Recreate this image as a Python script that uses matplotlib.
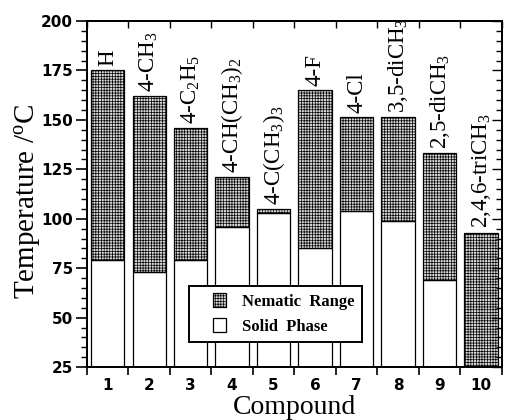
import matplotlib
matplotlib.use("Agg")
import matplotlib.pyplot as plt
from matplotlib.patches import Patch, Rectangle
from matplotlib.legend_handler import HandlerPatch
from matplotlib.ticker import MultipleLocator, FixedLocator

plt.rcParams['font.family'] = ['Liberation Serif', 'DejaVu Serif']
plt.rcParams['mathtext.fontset'] = 'custom'
plt.rcParams['mathtext.rm'] = 'Liberation Serif'
plt.rcParams['mathtext.it'] = 'Liberation Serif:italic'
plt.rcParams['hatch.color'] = '#a4a4a4'
plt.rcParams['hatch.linewidth'] = 0.5

compounds = [1, 2, 3, 4, 5, 6, 7, 8, 9, 10]
labels = ['H', '4-CH$_3$', '4-C$_2$H$_5$', '4-CH(CH$_3$)$_2$', '4-C(CH$_3$)$_3$',
          '4-F', '4-Cl', '3,5-diCH$_3$', '2,5-diCH$_3$', '2,4,6-triCH$_3$']
solid_phase = [79, 73, 79, 96, 103, 85, 104, 99, 69, 25]
clearing = [175, 162, 146, 121, 105, 165, 151.5, 151.5, 133, 93]

fig = plt.figure(figsize=(5.11, 4.20), dpi=100)
ax = fig.add_axes([0.170, 0.126, 0.812, 0.824])

width = 0.8
nem_face = '#d8d8d8'
ax.bar(compounds, solid_phase, width=width, bottom=0, color='white',
       edgecolor='black', linewidth=0.9, zorder=2)
ax.bar(compounds, [c - s for c, s in zip(clearing, solid_phase)], width=width,
       bottom=solid_phase, color=nem_face, edgecolor='black', linewidth=0.9,
       hatch='++++++', zorder=2)

for x, c, lab in zip(compounds, clearing, labels):
    ax.annotate(lab, xy=(x, c), xytext=(0, 3), textcoords='offset points',
                rotation=90, ha='center', va='bottom', fontsize=16.5)

ax.set_xlim(0.5, 10.5)
ax.set_ylim(25, 200)

tick_font = dict(family='DejaVu Sans', weight='bold', size=11)

ax.xaxis.set_major_locator(FixedLocator([i + 0.5 for i in range(0, 11)]))
ax.xaxis.set_major_formatter(plt.NullFormatter())
ax.set_xticks(compounds, [str(c) for c in compounds], minor=True)
ax.tick_params(axis='x', which='major', direction='out', length=6, width=1.2)
ax.tick_params(axis='x', which='minor', length=0, pad=8)
for t in ax.get_xticklabels(minor=True):
    t.set_fontproperties(tick_font)

ax.yaxis.set_major_locator(MultipleLocator(25))
ax.yaxis.set_minor_locator(MultipleLocator(5))
ax.tick_params(axis='y', which='major', direction='out', length=8, width=1.2, pad=2)
ax.tick_params(axis='y', which='minor', direction='out', length=4, width=1)
for t in ax.get_yticklabels():
    t.set_fontproperties(tick_font)

axt = ax.twiny()
axt.set_xlim(ax.get_xlim())
axt.xaxis.set_major_locator(FixedLocator([i + 0.5 for i in range(0, 11)]))
axt.xaxis.set_major_formatter(plt.NullFormatter())
axt.tick_params(axis='x', which='major', direction='in', length=5, width=1)
axr = ax.twinx()
axr.set_ylim(ax.get_ylim())
axr.yaxis.set_major_locator(MultipleLocator(25))
axr.yaxis.set_minor_locator(MultipleLocator(5))
axr.yaxis.set_major_formatter(plt.NullFormatter())
axr.tick_params(axis='y', which='major', direction='in', length=7, width=1)
axr.tick_params(axis='y', which='minor', direction='in', length=4, width=1)

for a in (ax, axt, axr):
    for s in a.spines.values():
        s.set_linewidth(1.4)

ax.set_xlabel('Compound', fontsize=20, labelpad=1)
ax.set_ylabel('Temperature /$^{\\mathrm{o}}$C', fontsize=21)
ax.yaxis.set_label_coords(-0.105, 0.48)


def square_right(legend, orig_handle, xdescent, ydescent, width, height, fontsize):
    sq = height
    return Rectangle((-xdescent + width - sq, -ydescent), sq, sq)


handles = [Patch(facecolor=nem_face, edgecolor='black', hatch='++++++', linewidth=0.9),
           Patch(facecolor='white', edgecolor='black', linewidth=0.9)]
leg = ax.legend(handles, ['Nematic  Range', 'Solid  Phase'], loc='lower left',
                bbox_to_anchor=(0.246, 0.072), fancybox=False, framealpha=1,
                edgecolor='black', prop={'weight': 'bold', 'size': 12},
                handlelength=1.8, handleheight=0.85, borderpad=0.45,
                labelspacing=0.5, handletextpad=0.95, borderaxespad=0,
                handler_map={Patch: HandlerPatch(patch_func=square_right)})
leg.get_frame().set_linewidth(1.4)
leg.set_zorder(5)

fig.savefig('out.png', dpi=100)
